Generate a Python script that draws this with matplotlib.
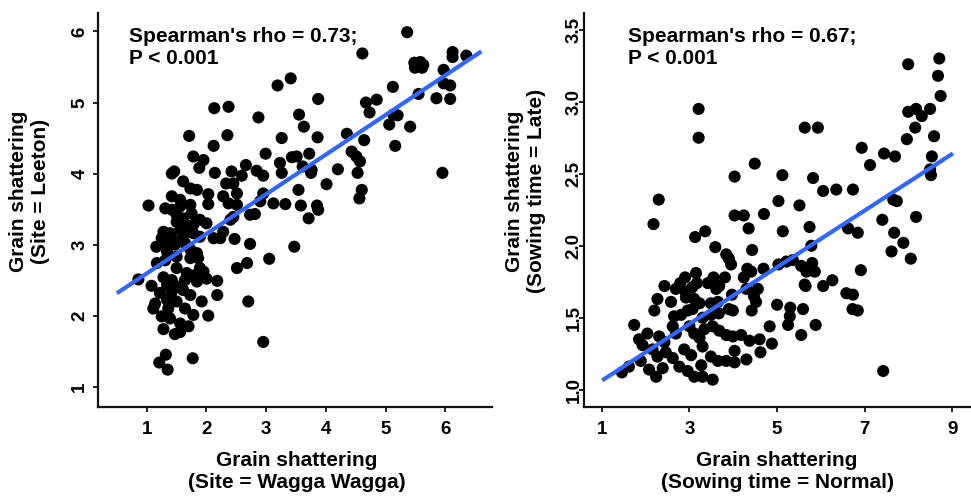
import matplotlib
matplotlib.use("Agg")
import matplotlib.pyplot as plt
import numpy as np

plt.rcParams['font.family'] = ['Liberation Sans', 'DejaVu Sans']
plt.rcParams['font.weight'] = 'bold'

# ---------------- data ----------------
# Left panel: x = Wagga Wagga, y = Leeton
left_points = [
    (5.36,5.99),(4.61,5.69),(6.12,5.71),(6.12,5.64),(6.35,5.66),(5.48,5.56),(5.58,5.57),(5.63,5.53),
    (5.49,5.49),(5.61,5.49),(5.97,5.46),(5.97,5.27),(6.08,5.24),(5.55,5.12),(5.85,5.06),(6.08,5.05),
    (5.12,5.22),(3.41,5.34),(3.19,5.24),(3.87,5.05),(2.13,4.92),(2.37,4.94),(4.67,5.00),(4.85,5.04),
    (4.73,4.86),(3.55,4.83),(2.87,4.79),(5.13,4.83),(5.20,4.82),(5.06,4.69),(5.41,4.66),(3.63,4.66),
    (1.71,4.53),(2.35,4.54),(3.26,4.50),(3.86,4.51),(4.35,4.56),(4.64,4.47),(5.16,4.39),(2.12,4.39),
    (4.43,4.31),(4.51,4.24),(4.57,4.17),(2.99,4.28),(3.72,4.28),(3.43,4.23),(3.51,4.24),(1.78,4.24),
    (1.95,4.19),(1.88,4.08),(2.66,4.12),(3.23,4.15),(3.26,4.01),(3.61,4.10),(3.76,4.05),(3.75,4.01),
    (4.20,4.06),(1.46,4.03),(1.42,4.00),(2.14,4.01),(2.42,4.03),(2.59,3.97),(2.84,4.04),(2.95,3.97),
    (4.53,4.01),(5.95,4.01),
    (1.61,3.89),(1.73,3.79),(1.84,3.77),(2.33,3.86),(2.45,3.86),(2.51,3.72),(2.95,3.72),(3.54,3.77),
    (4.01,3.85),(4.60,3.77),(4.56,3.65),(2.03,3.71),(2.03,3.57),(1.42,3.68),(1.56,3.63),(1.03,3.55),
    (1.31,3.51),(1.42,3.49),(1.56,3.54),(1.73,3.56),(2.28,3.68),(2.37,3.58),(2.51,3.56),(2.90,3.61),
    (3.12,3.58),(3.32,3.57),(3.58,3.55),(3.85,3.55),(3.87,3.49),(3.71,3.37),(2.73,3.42),(2.81,3.43),
    (2.45,3.39),(2.40,3.35),(1.50,3.42),(1.61,3.37),(1.75,3.44),(1.89,3.35),(2.00,3.30),(1.50,3.32),
    (1.67,3.25),(1.78,3.28),(1.28,3.18),(1.39,3.16),(1.56,3.21),(1.25,3.09),(1.42,3.09),(1.61,3.11),
    (1.78,3.16),(1.89,3.11),(2.12,3.09),(2.28,3.18),(2.23,3.09),(2.47,3.08),(2.73,3.01),(3.47,2.97),
    (1.16,2.97),(1.34,2.97),(1.47,3.00),(1.64,3.02),(1.34,2.90),(1.50,2.83),(1.73,2.93),(1.84,2.88),
    (1.73,2.81),(1.86,2.81),(1.17,2.74),(1.31,2.78),(3.05,2.80),(2.68,2.74),(2.51,2.67),(1.50,2.67),
    (1.89,2.67),(1.95,2.62),(1.67,2.60),(1.81,2.57),(0.86,2.51),(1.28,2.54),(1.42,2.50),(1.64,2.50),
    (1.84,2.48),(2.00,2.52),(2.18,2.49),(1.08,2.42),(1.34,2.43),(1.50,2.41),(1.22,2.32),(1.42,2.34),
    (1.61,2.36),(1.73,2.29),(2.18,2.29),(1.14,2.17),(1.34,2.22),(1.50,2.20),(1.11,2.10),(1.36,2.10),
    (1.92,2.20),(2.70,2.20),(1.64,2.10),(1.25,1.99),(1.39,1.96),(1.78,2.01),(2.03,2.00),(1.56,1.89),
    (1.70,1.85),(1.28,1.81),(1.47,1.74),(1.56,1.77),(2.95,1.63),(1.32,1.45),(1.21,1.34),(1.35,1.24),
    (1.77,1.40),
]

# Right panel: x = Normal sowing, y = Late sowing
right_points = [
    (7.99,3.26),(8.70,3.30),(8.67,3.18),(8.73,3.04),(3.21,2.95),(3.21,2.75),(7.99,2.93),(8.17,2.95),
    (8.30,2.90),(8.49,2.95),(8.15,2.82),(7.96,2.74),(8.58,2.76),(5.63,2.82),(5.93,2.82),(6.93,2.68),
    (7.12,2.56),(7.44,2.64),(7.69,2.62),(8.53,2.62),(8.49,2.53),(8.51,2.49),(4.49,2.57),(4.03,2.48),
    (5.12,2.49),(5.82,2.47),(6.05,2.38),(6.35,2.39),(6.73,2.39),(2.30,2.32),(5.03,2.31),(5.51,2.28),
    (7.65,2.32),(7.73,2.31),(2.18,2.15),(4.03,2.21),(4.24,2.21),(4.70,2.22),(4.35,2.12),(5.13,2.10),
    (5.74,2.13),(6.62,2.12),(6.84,2.09),(7.40,2.18),(8.17,2.20),(7.67,2.09),(7.61,1.96),(7.88,2.02),
    (8.05,1.91),(3.13,2.06),(3.36,2.10),(3.59,1.99),(4.43,1.97),(5.78,2.00),(3.84,1.94),(3.90,1.91),
    (3.95,1.87),(4.32,1.84),(4.41,1.82),(4.69,1.84),(5.03,1.87),(5.21,1.89),(5.36,1.90),(5.55,1.86),
    (5.67,1.82),(5.80,1.88),(5.86,1.82),(6.91,1.83),(3.81,1.78),(4.24,1.78),(2.43,1.72),(3.15,1.81),
    (2.90,1.78),(2.79,1.74),(3.55,1.78),(3.42,1.74),(3.61,1.70),(3.68,1.72),(3.17,1.74),(2.69,1.70),
    (2.91,1.68),(3.06,1.71),(3.97,1.66),(4.30,1.70),(4.56,1.70),(4.47,1.65),(5.63,1.73),(5.65,1.72),
    (6.05,1.72),(6.26,1.76),(6.58,1.67),(6.73,1.66),(2.27,1.63),(2.20,1.55),(2.58,1.61),(2.92,1.64),
    (3.11,1.63),(3.23,1.60),(3.49,1.60),(3.65,1.61),(2.65,1.51),(2.81,1.52),(2.96,1.55),(3.07,1.56),
    (3.30,1.50),(3.49,1.52),(3.67,1.53),(3.90,1.56),(3.99,1.55),(4.42,1.55),(4.52,1.61),(5.00,1.59),
    (5.30,1.57),(5.29,1.51),(5.25,1.45),(5.59,1.56),(6.72,1.56),(6.84,1.55),(4.83,1.44),(5.88,1.45),
    (1.74,1.45),(2.04,1.39),(1.85,1.35),(1.93,1.31),(2.31,1.37),(2.43,1.33),(2.62,1.44),(2.69,1.39),
    (3.00,1.44),(3.11,1.39),(3.23,1.36),(3.34,1.42),(3.53,1.44),(3.68,1.41),(3.84,1.38),(3.99,1.37),
    (4.18,1.38),(4.37,1.34),(4.60,1.35),(4.88,1.32),(5.55,1.38),(4.03,1.27),(4.62,1.26),(4.30,1.21),
    (1.89,1.20),(2.16,1.28),(2.27,1.23),(2.46,1.26),(2.62,1.22),(2.88,1.28),(3.04,1.24),(3.30,1.30),
    (3.49,1.23),(3.65,1.20),(3.84,1.20),(4.03,1.19),(2.77,1.16),(2.96,1.13),(3.11,1.09),(1.46,1.12),
    (1.62,1.16),(2.08,1.14),(2.24,1.09),(2.39,1.15),(3.27,1.17),(3.30,1.09),(3.53,1.07),(7.42,1.13),
]

# fitted lines: (intercept, slope, x_start, x_end)
left_fit = (2.036, 0.558, 0.50, 6.60)
right_fit = (0.866, 0.197, 1.01, 9.01)

left_xticks = [1, 2, 3, 4, 5, 6]
left_yticks = [1, 2, 3, 4, 5, 6]
right_xticks = [1, 3, 5, 7, 9]
right_yticks = [1.0, 1.5, 2.0, 2.5, 3.0, 3.5]
right_yticklabels = ["1.0", "1.5", "2.0", "2.5", "3.0", "3.5"]

left_annot = "Spearman's rho = 0.73;\nP < 0.001"
right_annot = "Spearman's rho = 0.67;\nP < 0.001"
left_xlabel = "Grain shattering\n(Site = Wagga Wagga)"
left_ylabel = "Grain shattering\n(Site = Leeton)"
right_xlabel = "Grain shattering\n(Sowing time = Normal)"
right_ylabel = "Grain shattering\n(Sowing time = Late)"

# ---------------- figure ----------------
W, H = 971, 496
fig = plt.figure(figsize=(W/100, H/100), dpi=100)

ax1 = fig.add_axes([98/W, 89/H, 394/W, 394/H])
ax2 = fig.add_axes([584/W, 89/H, 386/W, 394/H])

LINE_BLUE = "#3366FF"
TICK_FS = 13.5
TEXT_FS = 15

def style(ax, ypad):
    for s in ("top", "right"):
        ax.spines[s].set_visible(False)
    for s in ("left", "bottom"):
        ax.spines[s].set_linewidth(1.6)
        ax.spines[s].set_color("#111111")
    ax.tick_params(direction="out", length=3.5, width=1.3, color="#111111",
                   labelsize=TICK_FS)
    ax.tick_params(axis="x", pad=6.5)
    ax.tick_params(axis="y", pad=ypad)
    for lab in ax.get_yticklabels():
        lab.set_rotation(90)
        lab.set_va("center")
    for lab in ax.get_xticklabels() + ax.get_yticklabels():
        lab.set_fontweight("bold")

def draw(ax, pts, fit):
    xs = np.array([p[0] for p in pts])
    ys = np.array([p[1] for p in pts])
    ax.scatter(xs, ys, s=76, color="black", edgecolors="none", zorder=2)
    b0, b1, xa, xb = fit
    lx = np.array([xa, xb])
    ax.plot(lx, b0 + b1*lx, color=LINE_BLUE, lw=3.0, zorder=3, solid_capstyle="butt")

draw(ax1, left_points, left_fit)
ax1.set_xlim(0.184, 6.78)
ax1.set_ylim(0.714, 6.26)
ax1.set_xticks(left_xticks)
ax1.set_yticks(left_yticks)
style(ax1, 3.5)

draw(ax2, right_points, right_fit)
ax2.set_xlim(0.595, 9.40)
ax2.set_ylim(0.88, 3.616)
ax2.set_xticks(right_xticks)
ax2.set_yticks(right_yticks)
ax2.set_yticklabels(right_yticklabels)
style(ax2, -2.5)

fig.text(129/W, 1 - 27/H, left_annot, ha="left", va="top",
         fontsize=TEXT_FS, fontweight="bold", linespacing=1.2)
fig.text(628/W, 1 - 27/H, right_annot, ha="left", va="top",
         fontsize=TEXT_FS, fontweight="bold", linespacing=1.2)

fig.text(297/W, 1 - 472/H, left_xlabel, ha="center", va="center", fontsize=TEXT_FS,
         fontweight="bold", linespacing=1.2, multialignment="center")
fig.text(777/W, 1 - 472/H, right_xlabel, ha="center", va="center", fontsize=TEXT_FS,
         fontweight="bold", linespacing=1.2, multialignment="center")
fig.text(30/W, 1 - 191/H, left_ylabel, ha="center", va="center", rotation=90, fontsize=TEXT_FS,
         fontweight="bold", linespacing=1.2, multialignment="center")
fig.text(525/W, 1 - 191/H, right_ylabel, ha="center", va="center", rotation=90, fontsize=TEXT_FS,
         fontweight="bold", linespacing=1.2, multialignment="center")

fig.savefig("out.png", dpi=100, facecolor="white")
